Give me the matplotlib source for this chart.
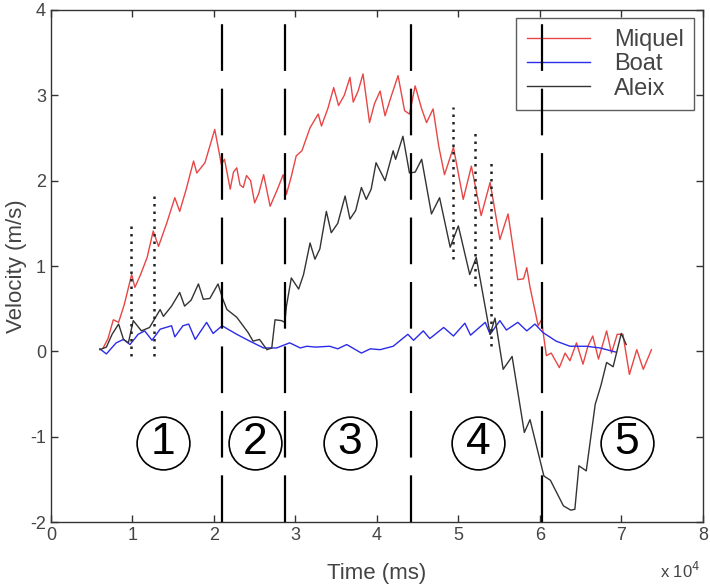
import matplotlib
matplotlib.use("Agg")
import matplotlib.pyplot as plt
import numpy as np

plt.rcParams['font.family'] = ['Liberation Sans', 'DejaVu Sans']
plt.rcParams['axes.unicode_minus'] = False

# ---- data (time in 1e4 ms, velocity in m/s) ----
miquel_t = [0.64, 0.70, 0.765, 0.83, 0.90, 0.99, 1.03, 1.10, 1.18, 1.255, 1.32, 1.42, 1.52, 1.58,
            1.66, 1.75, 1.79, 1.89, 2.01, 2.07, 2.09, 2.13, 2.20, 2.24, 2.28, 2.32, 2.36, 2.40,
            2.45, 2.50, 2.55, 2.61, 2.69, 2.78, 2.85, 2.89, 2.95, 3.01, 3.08, 3.18, 3.28, 3.32,
            3.40, 3.47, 3.53, 3.60, 3.67, 3.71, 3.77, 3.83, 3.91, 3.97, 4.04, 4.10, 4.18, 4.26,
            4.34, 4.40, 4.47, 4.55, 4.61, 4.69, 4.76, 4.83, 4.94, 5.06, 5.16, 5.28, 5.39, 5.51,
            5.61, 5.73, 5.80, 5.84, 5.88, 5.98, 6.02, 6.08, 6.14, 6.24, 6.31, 6.37, 6.45, 6.53,
            6.59, 6.65, 6.72, 6.82, 6.88, 6.95, 7.02, 7.10, 7.19, 7.27, 7.37]
miquel_v = [0.04, 0.15, 0.37, 0.34, 0.55, 0.90, 0.75, 0.90, 1.10, 1.41, 1.23, 1.50, 1.80, 1.64,
            1.90, 2.23, 2.09, 2.21, 2.60, 2.30, 2.19, 2.25, 1.90, 2.10, 2.15, 1.95, 1.92, 2.06,
            2.00, 1.74, 1.85, 2.07, 1.70, 1.90, 2.07, 1.84, 2.05, 2.29, 2.35, 2.62, 2.78, 2.64,
            2.85, 3.09, 2.88, 3.00, 3.21, 2.92, 3.05, 3.25, 2.68, 2.90, 3.05, 2.76, 3.00, 3.23,
            2.82, 2.78, 3.11, 2.84, 2.68, 2.84, 2.40, 2.07, 2.39, 1.78, 2.17, 1.59, 1.98, 1.31,
            1.61, 0.84, 0.85, 0.98, 0.75, 0.30, 0.37, -0.05, -0.02, -0.19, -0.02, -0.11, 0.10, -0.15,
            0.06, 0.18, -0.09, 0.24, -0.02, 0.20, 0.20, -0.27, 0.02, -0.21, 0.02]

boat_t = [0.60, 0.68, 0.80, 0.89, 0.97, 1.07, 1.15, 1.24, 1.34, 1.48, 1.52, 1.62, 1.69, 1.77,
          1.91, 1.99, 2.10, 2.28, 2.44, 2.61, 2.77, 2.93, 3.06, 3.14, 3.25, 3.42, 3.52, 3.63,
          3.81, 3.92, 4.04, 4.20, 4.38, 4.45, 4.57, 4.65, 4.82, 4.94, 5.08, 5.15, 5.33, 5.39,
          5.51, 5.59, 5.73, 5.84, 5.94, 6.04, 6.20, 6.37, 6.57, 6.74, 6.94]
boat_v = [0.03, -0.03, 0.10, 0.14, 0.08, 0.20, 0.24, 0.13, 0.26, 0.30, 0.17, 0.30, 0.32, 0.14,
          0.34, 0.21, 0.30, 0.20, 0.12, 0.04, 0.04, 0.10, 0.04, 0.06, 0.05, 0.06, 0.03, 0.08,
          -0.02, 0.03, 0.02, 0.06, 0.20, 0.13, 0.24, 0.15, 0.28, 0.18, 0.33, 0.19, 0.34, 0.20,
          0.36, 0.25, 0.34, 0.24, 0.32, 0.22, 0.12, 0.06, 0.06, 0.04, -0.01]

aleix_t = [0.60, 0.68, 0.75, 0.83, 0.89, 0.95, 1.01, 1.06, 1.11, 1.21, 1.34, 1.38, 1.48, 1.58,
           1.64, 1.72, 1.81, 1.87, 1.95, 2.05, 2.11, 2.16, 2.28, 2.42, 2.48, 2.56, 2.65, 2.71,
           2.75, 2.83, 2.87, 2.89, 2.95, 3.04, 3.10, 3.18, 3.24, 3.30, 3.38, 3.44, 3.52, 3.61,
           3.67, 3.74, 3.81, 3.87, 3.93, 3.99, 4.10, 4.20, 4.23, 4.32, 4.40, 4.47, 4.55, 4.67,
           4.77, 4.90, 5.00, 5.14, 5.22, 5.39, 5.45, 5.55, 5.66, 5.81, 5.88, 6.05, 6.13, 6.29,
           6.38, 6.43, 6.48, 6.57, 6.68, 6.75, 6.82, 6.90, 7.00, 7.06]
aleix_v = [0.02, 0.05, 0.20, 0.32, 0.14, 0.10, 0.36, 0.30, 0.24, 0.28, 0.49, 0.41, 0.53, 0.69,
           0.53, 0.60, 0.79, 0.61, 0.62, 0.79, 0.61, 0.49, 0.40, 0.22, 0.12, 0.14, 0.02, 0.04,
           0.37, 0.36, 0.34, 0.53, 0.86, 0.73, 0.90, 1.27, 1.08, 1.20, 1.64, 1.39, 1.50, 1.82,
           1.55, 1.65, 1.92, 1.78, 1.90, 2.21, 2.00, 2.35, 2.25, 2.52, 2.09, 2.10, 2.25, 1.61,
           1.80, 1.22, 1.47, 0.90, 1.10, 0.20, 0.39, -0.21, -0.06, -0.95, -0.80, -1.46, -1.51, -1.81,
           -1.86, -1.85, -1.34, -1.40, -0.62, -0.40, -0.13, -0.18, 0.21, 0.08]

phase_bounds = [2.10, 2.87, 4.42, 6.03]
dot_t = [0.98, 1.26, 4.93, 5.20, 5.40]
dot_lo = [-0.05, -0.05, 1.08, 0.77, 0.06]
dot_hi = [1.50, 1.85, 2.86, 2.57, 2.22]
phase_t = [1.37, 2.50, 3.67, 5.24, 7.07]
phase_labels = ['1', '2', '3', '4', '5']
phase_v = -1.07

x_ticks = [0, 1, 2, 3, 4, 5, 6, 7, 8]
y_ticks = [-2, -1, 0, 1, 2, 3, 4]

fig = plt.figure(figsize=(7.10, 5.84), dpi=100)
ax = fig.add_axes([0.0718, 0.106, 0.918, 0.877])

ax.plot(miquel_t, miquel_v, color='#e84545', lw=1.0, label='Miquel', zorder=2)
ax.plot(boat_t, boat_v, color='#2b2bea', lw=1.0, label='Boat', zorder=2)
ax.plot(aleix_t, aleix_v, color='#333333', lw=1.0, label='Aleix', zorder=2)

for b in phase_bounds:
    ax.axvline(b, color='black', lw=1.6, linestyle=(0, (21, 8)), zorder=3)
ax.vlines(dot_t, dot_lo, dot_hi, colors='#222222', lw=1.8,
          linestyles=(0, (1, 2)), zorder=3)

ax.plot(phase_t, [phase_v] * len(phase_t), linestyle='none', marker='o',
        ms=38, mfc='none', mec='black', mew=1.2)
for t, lab in zip(phase_t, phase_labels):
    ax.text(t, phase_v, lab, ha='center', va='center', fontsize=32, color='black')

ax.set_xlim(0, 8)
ax.set_ylim(-2, 4)
ax.set_xticks(x_ticks)
ax.set_yticks(y_ticks)
ax.tick_params(direction='in', top=True, right=True, length=5, width=1,
               labelsize=13, labelcolor='#444444', color='#333333')
for s in ax.spines.values():
    s.set_color('#333333')
    s.set_linewidth(1.0)

fig.text(0.93, 0.005, r'x 10$^4$', fontsize=12, color='#444444', ha='left', va='bottom')

ax.set_xlabel('Time (ms)', fontsize=16, color='#444444', labelpad=14)
ax.set_ylabel('Velocity (m/s)', fontsize=16, color='#444444', labelpad=2)

leg = ax.legend(loc='upper right', fontsize=17, frameon=True, fancybox=False,
                edgecolor='#333333', handlelength=2.7, handletextpad=1.0,
                borderpad=0.45, labelspacing=0.1, borderaxespad=0.35)
leg.get_frame().set_linewidth(1.0)
leg.set_zorder(2.5)
for txt in leg.get_texts():
    txt.set_color('#444444')

fig.savefig('out.png', dpi=100)
